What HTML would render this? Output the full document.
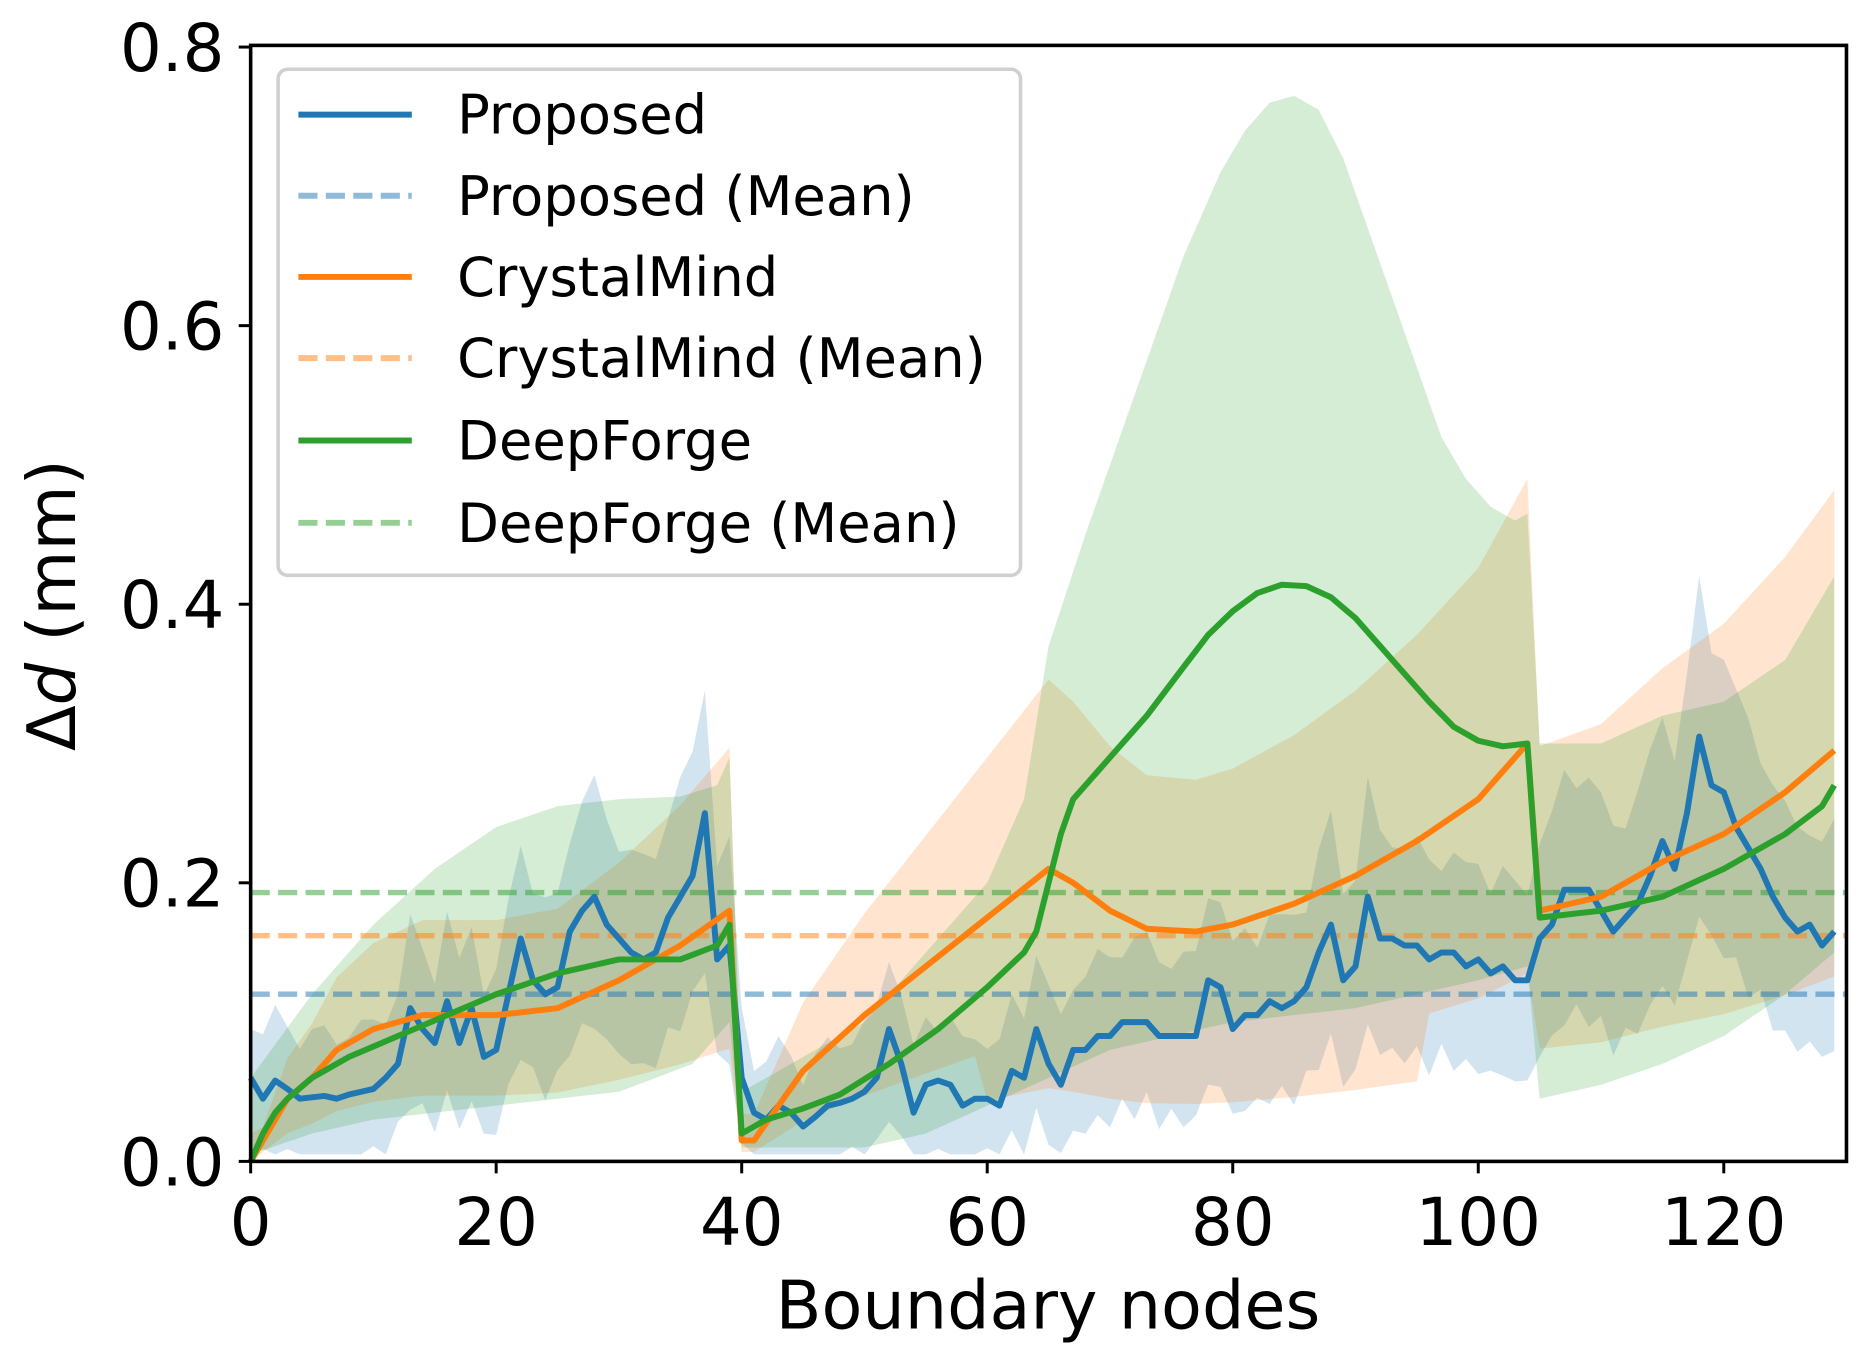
<!DOCTYPE html>
<html><head><meta charset="utf-8">
<style>html,body{margin:0;padding:0;background:#fff;}svg{display:block;}</style>
</head><body>
<svg id="s" width="1862" height="1353" viewBox="0 0 1560 1133.5" xmlns="http://www.w3.org/2000/svg" font-family="DejaVu Sans, Liberation Sans, sans-serif">
<g id="bands"></g>
<g id="means"></g>
<g id="lines"></g>
<rect x="210" y="38" width="1337" height="935" fill="none" stroke="#000" stroke-width="3"/>
<g id="ticks" font-size="55" fill="#000"></g>
<text x="878" y="1113" font-size="56" text-anchor="middle">Boundary nodes</text>
<text transform="translate(63,507) rotate(-90)" font-size="56" text-anchor="middle">Δ<tspan font-style="italic">d</tspan> (mm)</text>
<g>
<rect x="233" y="58" width="622" height="424" rx="8" fill="#fff" fill-opacity="0.8" stroke="#d0d0d0" stroke-width="3"/>
<g stroke-width="5">
<line x1="250" y1="96" x2="345" y2="96" stroke="#1f77b4"/>
<line x1="250" y1="164" x2="345" y2="164" stroke="#1f77b4" stroke-opacity="0.5" stroke-dasharray="16,7"/>
<line x1="250" y1="232" x2="345" y2="232" stroke="#ff7f0e"/>
<line x1="250" y1="300" x2="345" y2="300" stroke="#ff7f0e" stroke-opacity="0.5" stroke-dasharray="16,7"/>
<line x1="250" y1="369" x2="345" y2="369" stroke="#2ca02c"/>
<line x1="250" y1="438" x2="345" y2="438" stroke="#2ca02c" stroke-opacity="0.5" stroke-dasharray="16,7"/>
</g>
<g font-size="45.5" fill="#000">
<text x="383" y="112">Proposed</text>
<text x="383" y="180">Proposed (Mean)</text>
<text x="383" y="248">CrystalMind</text>
<text x="383" y="316">CrystalMind (Mean)</text>
<text x="383" y="385">DeepForge</text>
<text x="383" y="454">DeepForge (Mean)</text>
</g>
</g>
</svg>
<script>
const NS="http://www.w3.org/2000/svg";
const X=x=>210+x*10.285, Y=v=>973-v*1167;
function interp(pts){const o=[];for(let x=0;x<=129;x++){let i=0;while(i<pts.length-1&&pts[i+1][0]<x)i++;const a=pts[i],b=pts[Math.min(i+1,pts.length-1)];let v;if(x<=a[0])v=a[1];else if(b[0]==a[0])v=b[1];else v=a[1]+(b[1]-a[1])*(x-a[0])/(b[0]-a[0]);o.push(v);}return o;}
function el(t,a,p){const e=document.createElementNS(NS,t);for(const k in a)e.setAttribute(k,a[k]);document.getElementById(p).appendChild(e);return e;}
function band(lo,hi,c){let d="M"+X(0)+","+Y(hi[0]);for(let i=1;i<hi.length;i++)d+="L"+X(i)+","+Y(hi[i]);for(let i=lo.length-1;i>=0;i--)d+="L"+X(i)+","+Y(lo[i]);el("path",{d:d+"Z",fill:c,"fill-opacity":0.2},"bands");}
function line(v,c){let d="";v.forEach((y,i)=>d+=(i?"L":"M")+X(i)+","+Y(y));el("path",{d,fill:"none",stroke:c,"stroke-width":5,"stroke-linejoin":"round"},"lines");}
const blue=[.06,.045,.058,.052,.045,.046,.047,.045,.048,.05,.052,.06,.07,.11,.095,.085,.115,.085,.11,.075,.08,.12,.16,.13,.12,.125,.165,.18,.19,.17,.16,.15,.145,.15,.175,.19,.205,.25,.145,.155,.06,.035,.03,.04,.035,.025,.032,.04,.042,.045,.05,.06,.095,.07,.035,.055,.058,.055,.04,.045,.045,.04,.065,.06,.095,.07,.055,.08,.08,.09,.09,.1,.1,.1,.09,.09,.09,.09,.13,.125,.095,.105,.105,.115,.11,.115,.125,.15,.17,.13,.14,.19,.16,.16,.155,.155,.145,.15,.15,.14,.145,.135,.14,.13,.13,.16,.17,.195,.195,.195,.18,.165,.175,.185,.205,.23,.21,.25,.305,.27,.265,.24,.225,.21,.19,.175,.165,.17,.155,.165];
const orange=interp([[0,0],[1,.015],[2,.03],[3,.045],[5,.06],[7,.08],[10,.095],[14,.105],[20,.105],[25,.11],[30,.13],[35,.155],[39,.18],[40,.015],[41,.015],[43,.04],[45,.065],[50,.105],[55,.14],[60,.175],[65,.21],[67,.2],[70,.18],[73,.167],[77,.165],[80,.17],[85,.185],[90,.205],[95,.23],[100,.26],[104,.3],[105,.18],[110,.19],[115,.215],[120,.235],[125,.265],[129,.295]]);
const green=interp([[0,0],[1,.02],[2,.035],[3,.045],[5,.06],[8,.075],[12,.09],[16,.105],[20,.12],[25,.135],[30,.145],[35,.145],[38,.155],[39,.17],[40,.02],[42,.03],[45,.038],[48,.048],[52,.07],[56,.095],[60,.125],[63,.15],[64,.165],[65,.2],[66,.235],[67,.26],[70,.29],[73,.32],[76,.355],[78,.378],[80,.395],[82,.408],[84,.414],[86,.413],[88,.405],[90,.39],[92,.37],[94,.35],[96,.33],[98,.312],[100,.302],[102,.298],[104,.3],[105,.175],[110,.18],[115,.19],[120,.21],[125,.235],[128,.255],[129,.27]]);
const gHi=interp([[0,.06],[5,.12],[10,.17],[15,.21],[20,.24],[25,.255],[30,.26],[35,.262],[38,.27],[39,.29],[40,.05],[45,.075],[50,.1],[55,.15],[60,.2],[63,.26],[65,.37],[68,.45],[72,.55],[76,.65],[79,.71],[81,.74],[83,.76],[85,.765],[87,.755],[89,.72],[91,.67],[93,.62],[95,.57],[97,.52],[99,.49],[101,.47],[103,.46],[104,.465],[105,.3],[110,.3],[115,.32],[120,.33],[125,.36],[129,.42]]);
const gLo=interp([[0,.005],[5,.02],[10,.03],[20,.04],[30,.05],[36,.07],[39,.1],[40,.01],[50,.01],[55,.02],[60,.04],[65,.06],[70,.08],[80,.1],[90,.11],[100,.13],[104,.14],[105,.045],[110,.055],[115,.07],[120,.09],[125,.12],[129,.15]]);
const oHi=orange.map((v,i)=>i<=39?Math.max(v*1.65,.02):v*1.6+.01);
const oLo=orange.map((v,i)=>(i>=60&&i<=95)?v*0.25:v*0.45);
const bHi=blue.map((v,i)=>v*1.25+0.02+0.02*Math.abs(Math.sin(i*2.3)));
const bLo=blue.map((v,i)=>Math.max(v*0.7-0.02-0.02*Math.abs(Math.cos(i*1.7)),0.005));
band(bLo,bHi,"#1f77b4");band(oLo,oHi,"#ff7f0e");band(gLo,gHi,"#2ca02c");
[[.12,"#1f77b4"],[.162,"#ff7f0e"],[.193,"#2ca02c"]].forEach(([m,c])=>el("line",{x1:210,x2:1547,y1:Y(m),y2:Y(m),stroke:c,"stroke-opacity":0.5,"stroke-width":4.5,"stroke-dasharray":"16,7"},"means"));
line(blue,"#1f77b4");line(orange,"#ff7f0e");line(green,"#2ca02c");
for(let t=0;t<=120;t+=20){el("line",{x1:X(t),x2:X(t),y1:973,y2:983,stroke:"#000","stroke-width":2.5},"ticks");el("text",{x:X(t),y:1043,"text-anchor":"middle"},"ticks").textContent=t;}
for(let k=0;k<=4;k++){const v=k*0.2,y=Y(v);el("line",{x1:200,x2:210,y1:y,y2:y,stroke:"#000","stroke-width":2.5},"ticks");el("text",{x:188,y:y+20,"text-anchor":"end"},"ticks").textContent=v.toFixed(1);}
</script>
</body></html>
